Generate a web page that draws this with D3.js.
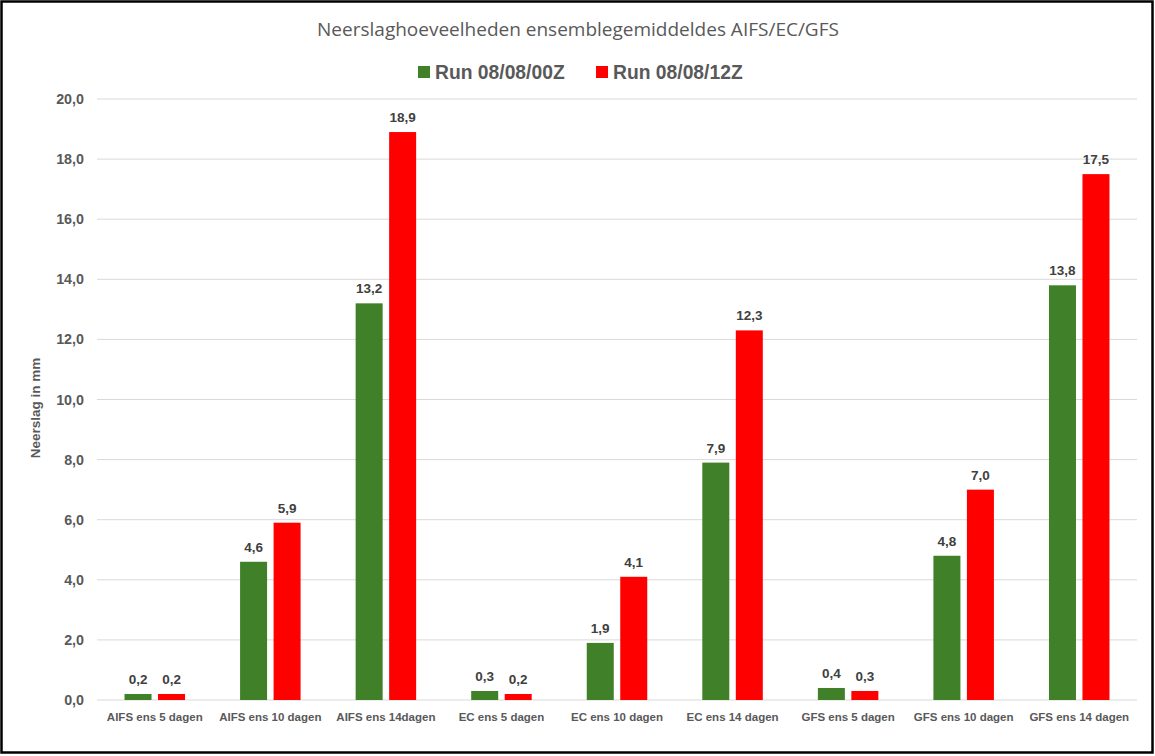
<!DOCTYPE html>
<html>
<head>
<meta charset="utf-8">
<script src="https://cdn.jsdelivr.net/npm/d3@7"></script>
<style>
  html, body { margin: 0; padding: 0; background: #fff; }
  svg { display: block; }
</style>
</head>
<body>
<svg id="chart" width="1155" height="756"></svg>
<script>
const categories = ["AIFS ens 5 dagen","AIFS ens 10 dagen","AIFS ens 14dagen","EC ens 5 dagen","EC ens 10 dagen","EC ens 14 dagen","GFS ens 5 dagen","GFS ens 10 dagen","GFS ens 14 dagen"];
const seriesNames = ["Run 08/08/00Z","Run 08/08/12Z"];
const run00 = [0.2, 4.6, 13.2, 0.3, 1.9, 7.9, 0.4, 4.8, 13.8];
const run12 = [0.2, 5.9, 18.9, 0.2, 4.1, 12.3, 0.3, 7.0, 17.5];
const yTicks = [0, 2, 4, 6, 8, 10, 12, 14, 16, 18, 20];
const colors = ["#3f8028", "#ff0000"];

(function () {
const svg = d3.select("#chart");
const font = "'Liberation Sans', Arial, sans-serif";

svg.append("rect").attr("x", 1.5).attr("y", 1.5).attr("width", 1151).attr("height", 751)
  .attr("fill", "#fff").attr("stroke", "#000").attr("stroke-width", 2.5);

const pLeft = 97, pRight = 1137, pTop = 99, pBottom = 700;
const x0 = d3.scaleBand().domain(categories).range([pLeft, pRight]).paddingInner(0).paddingOuter(0);
const y = d3.scaleLinear().domain([0, 20]).range([pBottom, pTop]);
const barW = 27, gap = 6.5;
const groupW = barW * 2 + gap;

// gridlines
svg.append("g").selectAll("line").data(yTicks).join("line")
  .attr("x1", pLeft).attr("x2", pRight)
  .attr("y1", d => y(d)).attr("y2", d => y(d))
  .attr("stroke", "#d9d9d9").attr("stroke-width", 1);

// y axis labels
const yAxis = d3.axisLeft(y).tickValues(yTicks).tickSize(0).tickPadding(0)
  .tickFormat(d => d3.format(".1f")(d).replace(".", ","));
const yg = svg.append("g").attr("transform", `translate(84,0)`).call(yAxis);
yg.select(".domain").remove();
yg.selectAll("text").attr("font-family", font).attr("font-size", 14.3).attr("font-weight", "bold").attr("fill", "#595959");

// x axis labels
const xAxis = d3.axisBottom(x0).tickSize(0).tickPadding(0);
const xg = svg.append("g").attr("transform", `translate(0,713)`).call(xAxis);
xg.select(".domain").remove();
xg.selectAll("text").attr("font-family", font).attr("font-size", 11.5).attr("font-weight", "bold").attr("fill", "#595959");

// bars
const series = [run00, run12];
series.forEach((vals, si) => {
  const g = svg.append("g");
  g.selectAll("rect").data(categories).join("rect")
    .attr("x", (c) => x0(c) + x0.bandwidth() / 2 - groupW / 2 + si * (barW + gap))
    .attr("width", barW)
    .attr("y", (c, i) => y(vals[i]))
    .attr("height", (c, i) => y(0) - y(vals[i]))
    .attr("fill", colors[si]);
  g.selectAll("text").data(categories).join("text")
    .attr("x", (c) => x0(c) + x0.bandwidth() / 2 - groupW / 2 + si * (barW + gap) + barW / 2)
    .attr("y", (c, i) => y(vals[i]) - 10)
    .attr("text-anchor", "middle")
    .attr("font-family", font).attr("font-size", 13.5).attr("font-weight", "bold").attr("fill", "#404040")
    .text((c, i) => d3.format(".1f")(vals[i]).replace(".", ","));
});

// title
svg.append("text").attr("x", 578).attr("y", 36).attr("text-anchor", "middle")
  .attr("font-family", "'Open Sans', sans-serif").attr("font-size", 19).attr("fill", "#595959")
  .text("Neerslaghoeveelheden ensemblegemiddeldes AIFS/EC/GFS");

// legend
const legendX = [418, 596];
seriesNames.forEach((n, i) => {
  svg.append("rect").attr("x", legendX[i]).attr("y", 66).attr("width", 12).attr("height", 12).attr("fill", colors[i]);
  svg.append("text").attr("x", legendX[i] + 17).attr("y", 79)
    .attr("font-family", font).attr("font-size", 19.3).attr("font-weight", "bold").attr("fill", "#595959")
    .text(n);
});

// y axis title
svg.append("text").attr("transform", "translate(40,408) rotate(-90)").attr("text-anchor", "middle")
  .attr("font-family", font).attr("font-size", 13.5).attr("font-weight", "bold").attr("fill", "#595959")
  .text("Neerslag in mm");
})();
</script>
</body>
</html>
